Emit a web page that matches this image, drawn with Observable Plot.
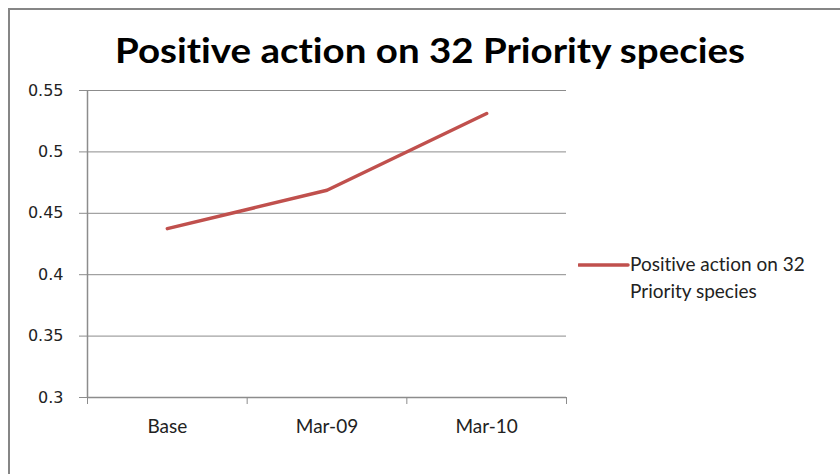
<!DOCTYPE html>
<html>
<head>
<meta charset="utf-8">
<script src="https://cdn.jsdelivr.net/npm/d3@7"></script>
<script src="https://cdn.jsdelivr.net/npm/@observablehq/plot@0.6"></script>
<style>
  html, body { margin: 0; padding: 0; background: #fff; }
  #wrap { position: relative; width: 840px; height: 474px; overflow: hidden; background: #fff;
          font-variant-ligatures: none; }
  #wrap text { font-variant-ligatures: none; }
  #frame { position: absolute; left: 8px; top: 8px; width: 900px; height: 600px;
           border-left: 2px solid #868686; border-top: 2px solid #868686; }
  #title { position: absolute; left: 0; top: 0; }
  #legend { position: absolute; left: 578px; top: 250px; display: flex; align-items: flex-start;
            font-family: Lato, "Noto Sans", sans-serif; font-size: 19px; color: #222; line-height: 27px; }
  #legend svg { margin-top: 1px; }
  #chart { position: absolute; left: 0; top: 0; }
</style>
</head>
<body>
<div id="wrap">
  <div id="frame"></div>
  <div id="chart"></div>
  <svg id="title" width="840" height="80">
    <text x="115" y="63" textLength="630" lengthAdjust="spacingAndGlyphs"
          font-family="Lato, 'Noto Sans', sans-serif" font-weight="bold" font-size="35" fill="#000">Positive action on 32 Priority species</text>
  </svg>
  <div id="legend"></div>
</div>
<script>
// Share of the 32 priority species with positive action, by reporting date
const seriesName = "Positive action on 32 Priority species";
const periods = ["Base", "Mar-09", "Mar-10"];
const values = [0.4375, 0.46875, 0.53125];
const yTicks = [0.3, 0.35, 0.4, 0.45, 0.5, 0.55];
const yTickLabels = ["0.3", "0.35", "0.4", "0.45", "0.5", "0.55"];

const lineColor = "#c0504d";
const gridColor = "#8c8c8c";

// each period occupies one unit band; points sit at band centres
const rows = periods.map((p, i) => ({period: p, pos: i + 0.5, value: values[i]}));
const bandEdges = d3.range(periods.length + 1);

const chart = Plot.plot({
  width: 840,
  height: 474,
  marginLeft: 87,
  marginRight: 274,
  marginTop: 90,
  marginBottom: 77,
  style: {background: "transparent"},
  x: {domain: [0, periods.length], axis: null},
  y: {domain: [0.3, 0.55], axis: null},
  marks: [
    Plot.gridY(yTicks, {stroke: gridColor, strokeOpacity: 1, strokeWidth: 1}),
    Plot.ruleX([0], {stroke: gridColor, strokeWidth: 1.5}),
    Plot.axisY({
      ticks: yTicks,
      tickSize: 8,
      tickPadding: 16,
      stroke: gridColor,
      label: null,
      tickFormat: (d) => yTickLabels[yTicks.indexOf(d)],
      fontFamily: "'DejaVu Sans', Verdana, sans-serif",
      fontSize: 16,
      color: "#222"
    }),
    Plot.axisX({
      ticks: bandEdges,
      tickSize: 7,
      label: null,
      tickFormat: () => "",
      stroke: gridColor
    }),
    Plot.axisX({
      ticks: rows.map((d) => d.pos),
      tickSize: 0,
      tickPadding: 22,
      label: null,
      tickFormat: (d) => periods[Math.floor(d)],
      fontFamily: "Lato, 'Noto Sans', sans-serif",
      fontSize: 19,
      color: "#222"
    }),
    Plot.ruleY([0.3], {stroke: gridColor, strokeWidth: 1.5}),
    Plot.line(rows, {x: "pos", y: "value", stroke: lineColor, strokeWidth: 3.5, strokeLinecap: "round", strokeLinejoin: "round"})
  ]
});
document.getElementById("chart").appendChild(chart);

// legend: swatch line and wrapped series name
const legend = document.getElementById("legend");
legend.innerHTML =
  `<svg width="52" height="27"><line x1="1" x2="50" y1="14" y2="14" stroke="${lineColor}" stroke-width="3.5" stroke-linecap="round"/></svg>` +
  `<div style="width:210px">${seriesName}</div>`;
</script>
</body>
</html>
